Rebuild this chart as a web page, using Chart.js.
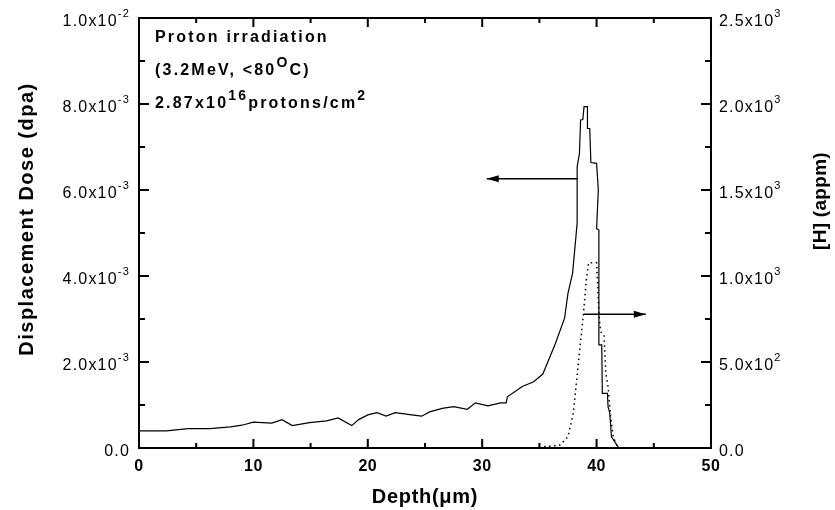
<!DOCTYPE html>
<html lang="en">
<head>
    <meta charset="UTF-8">
    <title>Displacement dose and H profile</title>
    <style>
        body { margin: 0; background: #fff; }
        canvas { display: block; }
    </style>
</head>
<body>
    <canvas id="myChart" width="835" height="510"></canvas>

    <script src="https://cdn.jsdelivr.net/npm/chart.js"></script>

    <script>
        // Displacement dose profile (solid line), depth in um
        const dpaDepth = [0, 2.4, 4.3, 6.2, 8.0, 9.0, 10.0, 11.6, 12.5, 13.4, 14.9, 16.4, 17.4, 18.6, 19.2,
            20.0, 20.8, 21.6, 22.4, 23.5, 24.7, 25.4, 26.5, 27.5, 28.7, 29.4, 30.5, 31.6, 32.1, 32.2,
            33.5, 34.5, 35.3, 36.4, 37.2, 37.5, 37.9, 38.3, 38.3, 38.5, 38.6, 38.8, 38.9, 39.2, 39.2,
            39.4, 39.5, 40.0, 40.15, 40.0, 40.2, 40.2, 40.45, 40.5, 40.95, 41.0, 41.15, 41.3, 41.9, 42.0];
        const dpaValue = [0.40, 0.40, 0.45, 0.45, 0.49, 0.53, 0.60, 0.58, 0.66, 0.52, 0.59, 0.63, 0.70, 0.52, 0.66,
            0.77, 0.82, 0.74, 0.82, 0.78, 0.74, 0.84, 0.92, 0.96, 0.90, 1.05, 0.98, 1.05, 1.05, 1.19,
            1.43, 1.54, 1.72, 2.43, 3.02, 3.60, 4.06, 5.23, 6.54, 6.85, 7.63, 7.64, 7.94, 7.94, 7.43,
            7.43, 6.64, 6.62, 6.00, 5.10, 5.07, 2.40, 2.40, 1.27, 1.27, 0.96, 0.81, 0.26, 0.02, 0.0]
            .map(v => v * 1e-3);

        // Hydrogen concentration profile (dotted line), appm
        const hDepth = [35.0, 35.3, 36.0, 36.8, 37.5, 37.96, 38.26, 38.55, 38.85, 39.1, 39.3, 40.0,
            40.15, 40.2, 40.35, 40.65, 40.8, 41.0, 41.2, 41.45, 41.75, 42.0];
        const hValue = [0, 8, 10, 17, 66, 202, 395, 589, 783, 977, 1077, 1077,
            860, 785, 676, 657, 434, 357, 202, 66, 17, 0];

        // tick labels
        const depthTicks = [0, 10, 20, 30, 40, 50];
        const dpaTicks = [0, 2e-3, 4e-3, 6e-3, 8e-3, 1e-2];
        const dpaTickLabels = [['0.0', ''], ['2.0x10', '-3'], ['4.0x10', '-3'], ['6.0x10', '-3'], ['8.0x10', '-3'], ['1.0x10', '-2']];
        const hTicks = [0, 500, 1000, 1500, 2000, 2500];
        const hTickLabels = [['0.0', ''], ['5.0x10', '2'], ['1.0x10', '3'], ['1.5x10', '3'], ['2.0x10', '3'], ['2.5x10', '3']];

        // arrows: [fromDepth, toDepth, dpa level]
        const arrowDpa = [38.3, 30.4, 6.26e-3];
        const arrowH = [38.9, 44.3, 3.11e-3];

        const FONT = '"Liberation Sans", Arial, sans-serif';

        function toXY(xs, ys) {
            return xs.map((x, i) => ({ x: x, y: ys[i] }));
        }

        // draw a string with superscript pieces: parts = [[text, isSup], ...]
        function drawRich(c, parts, x, y, size, supSize, bold, align) {
            const fontOf = p => (bold ? 'bold ' : '') + (p[1] ? supSize : size) + 'px ' + FONT;
            const w = parts.map(p => {
                c.font = fontOf(p);
                return c.measureText(p[0]).width;
            });
            const total = w.reduce((a, b) => a + b, 0);
            let cx = align === 'right' ? x - total : x;
            parts.forEach((p, i) => {
                c.font = fontOf(p);
                c.fillText(p[0], cx, p[1] ? y - size * 0.5 : y);
                cx += w[i];
            });
        }

        function arrow(c, x1, x2, y) {
            c.beginPath();
            c.moveTo(x1, y);
            c.lineTo(x2, y);
            c.lineWidth = 1.4;
            c.stroke();
            const dir = x2 < x1 ? 1 : -1;
            c.beginPath();
            c.moveTo(x2, y);
            c.lineTo(x2 + dir * 12, y - 3.5);
            c.lineTo(x2 + dir * 12, y + 3.5);
            c.closePath();
            c.fill();
        }

        const framePlugin = {
            id: 'frame',
            afterDraw(chart) {
                const c = chart.ctx;
                const a = chart.chartArea;
                const sx = chart.scales.x, sy = chart.scales.y, sh = chart.scales.y2;
                c.save();
                c.strokeStyle = '#000';
                c.fillStyle = '#000';
                c.lineWidth = 2;
                c.strokeRect(a.left, a.top, a.right - a.left, a.bottom - a.top);

                // tick marks, inward
                c.beginPath();
                for (let v = 0; v <= 50; v += 5) {
                    const px = sx.getPixelForValue(v);
                    const len = v % 10 === 0 ? 9 : 5;
                    c.moveTo(px, a.bottom); c.lineTo(px, a.bottom - len);
                    c.moveTo(px, a.top); c.lineTo(px, a.top + len);
                }
                for (let k = 0; k <= 10; k++) {
                    const py = sy.getPixelForValue(k * 1e-3);
                    c.moveTo(a.left, py); c.lineTo(a.left + (k % 2 === 0 ? 10 : 6), py);
                }
                for (let k = 0; k <= 10; k++) {
                    const py = sh.getPixelForValue(k * 250);
                    c.moveTo(a.right, py); c.lineTo(a.right - (k % 2 === 0 ? 10 : 6), py);
                }
                c.stroke();

                // tick labels
                c.textBaseline = 'middle';
                c.textAlign = 'left';
                c.letterSpacing = '1.2px';
                dpaTicks.forEach((v, i) => {
                    const py = sy.getPixelForValue(v) + 4;
                    const l = dpaTickLabels[i];
                    drawRich(c, [[l[0], false], [l[1], true]], 130, py, 16, 11, false, 'right');
                });
                hTicks.forEach((v, i) => {
                    const py = sh.getPixelForValue(v) + 4;
                    const l = hTickLabels[i];
                    drawRich(c, [[l[0], false], [l[1], true]], 719, py, 16, 11, false, 'left');
                });
                c.letterSpacing = '0.5px';
                c.textAlign = 'center';
                c.font = 'bold 16px ' + FONT;
                depthTicks.forEach(v => {
                    c.fillText(String(v), sx.getPixelForValue(v), 467);
                });

                // axis titles
                c.letterSpacing = '0.7px';
                c.font = 'bold 20px ' + FONT;
                c.fillText('Depth(\u03bcm)', (a.left + a.right) / 2, 497);
                c.save();
                c.letterSpacing = '1.5px';
                c.translate(27, 219);
                c.rotate(-Math.PI / 2);
                c.fillText('Displacement Dose (dpa)', 0, 0);
                c.restore();
                c.save();
                c.letterSpacing = '0.3px';
                c.font = 'bold 19px ' + FONT;
                c.translate(821, 201);
                c.rotate(-Math.PI / 2);
                c.fillText('[H] (appm)', 0, 0);
                c.restore();

                // annotation text
                c.letterSpacing = '2.2px';
                c.textAlign = 'left';
                c.textBaseline = 'alphabetic';
                drawRich(c, [['Proton irradiation', false]], 155, 42, 16, 14, true, 'left');
                drawRich(c, [['(3.2MeV, <80', false], ['O', true], ['C)', false]], 155, 75, 16, 14, true, 'left');
                drawRich(c, [['2.87x10', false], ['16', true], ['protons/cm', false], ['2', true]], 155, 108, 16, 14, true, 'left');
                c.letterSpacing = '0px';

                // arrows
                arrow(c, sx.getPixelForValue(arrowDpa[0]), sx.getPixelForValue(arrowDpa[1]), sy.getPixelForValue(arrowDpa[2]));
                arrow(c, sx.getPixelForValue(arrowH[0]), sx.getPixelForValue(arrowH[1]), sy.getPixelForValue(arrowH[2]));
                c.restore();
            }
        };

        const ctx = document.getElementById('myChart');

        new Chart(ctx, {
            type: 'line',
            data: {
                datasets: [{
                    label: 'Displacement dose',
                    data: toXY(dpaDepth, dpaValue),
                    borderColor: '#000',
                    borderWidth: 1.2,
                    pointRadius: 0,
                    tension: 0,
                    yAxisID: 'y'
                }, {
                    label: '[H]',
                    data: toXY(hDepth, hValue),
                    borderColor: '#000',
                    borderWidth: 1.5,
                    borderDash: [1.5, 3.5],
                    pointRadius: 0,
                    tension: 0,
                    yAxisID: 'y2'
                }]
            },
            options: {
                responsive: false,
                animation: false,
                devicePixelRatio: 1,
                layout: { padding: { top: 18, left: 0, right: 0, bottom: 0 } },
                plugins: { legend: { display: false }, tooltip: { enabled: false } },
                scales: {
                    x: {
                        type: 'linear', min: 0, max: 50,
                        grid: { display: false }, border: { display: false },
                        ticks: { display: false },
                        afterFit(scale) { scale.height = 62; }
                    },
                    y: {
                        position: 'left', min: 0, max: 0.01,
                        grid: { display: false }, border: { display: false },
                        ticks: { display: false },
                        afterFit(scale) { scale.width = 139; }
                    },
                    y2: {
                        position: 'right', min: 0, max: 2500,
                        grid: { display: false }, border: { display: false },
                        ticks: { display: false },
                        afterFit(scale) { scale.width = 124; }
                    }
                }
            },
            plugins: [framePlugin]
        });
    </script>
</body>
</html>
